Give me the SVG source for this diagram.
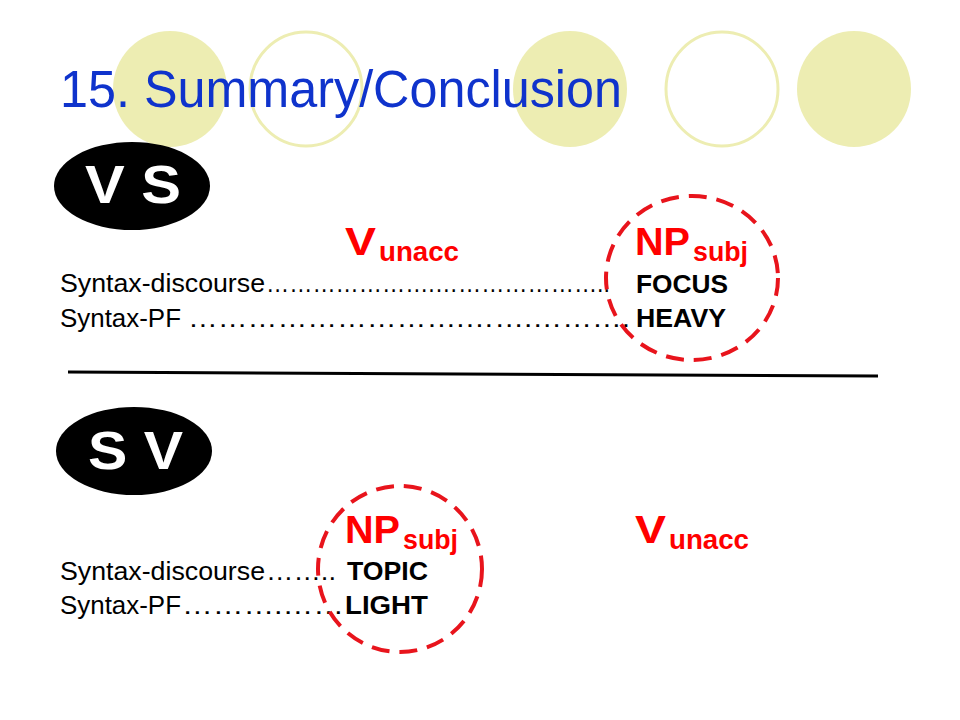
<svg xmlns="http://www.w3.org/2000/svg" width="960" height="720" viewBox="0 0 960 720">
<style>
.deco-f{fill:#EDEDB2;stroke:none}
.deco-o{fill:none;stroke:#EDEDB2;stroke-width:3}
.title{font-family:"Liberation Sans",Arial,sans-serif;font-size:51px;fill:#0F33CC}
.badge{fill:#000}
.badge-t{font-family:"Liberation Sans",Arial,sans-serif;font-weight:bold;font-size:53px;fill:#fff}
.red{font-family:"Liberation Sans",Arial,sans-serif;font-weight:bold;fill:#FF0000}
.big{font-size:38px}
.sub{font-size:27px}
.row{font-family:"Liberation Sans",Arial,sans-serif;font-size:26px;fill:#000}
.bold{font-family:"Liberation Sans",Arial,sans-serif;font-weight:bold;font-size:25px;fill:#000}
.dash{fill:none;stroke:#E8141C;stroke-width:4;stroke-dasharray:18 10}
</style>
<rect width="960" height="720" fill="#fff"/>
<g id="decor">
<ellipse class="deco-f" cx="170" cy="89" rx="57" ry="58"/>
<ellipse class="deco-o" cx="306" cy="89" rx="56" ry="57"/>
<ellipse class="deco-f" cx="570" cy="89" rx="57" ry="58"/>
<ellipse class="deco-o" cx="722" cy="89" rx="56" ry="57"/>
<ellipse class="deco-f" cx="854" cy="89" rx="57" ry="58"/>
</g>
<g id="title"><text class="title" x="60" y="107" textLength="562" lengthAdjust="spacingAndGlyphs">15. Summary/Conclusion</text></g>
<g id="vs">
<ellipse class="badge" cx="132" cy="186" rx="78" ry="44"/>
<text class="badge-t" x="85" y="203" textLength="96" lengthAdjust="spacingAndGlyphs">V S</text>
</g>
<g id="vs-heads">
<text class="red big" x="345" y="255" textLength="31" lengthAdjust="spacingAndGlyphs">V</text>
<text class="red sub" x="379" y="261" textLength="80" lengthAdjust="spacingAndGlyphs">unacc</text>
<text class="red big" x="635" y="255" textLength="55" lengthAdjust="spacingAndGlyphs">NP</text>
<text class="red sub" x="693" y="261" textLength="55" lengthAdjust="spacingAndGlyphs">subj</text>
</g>
<g id="vs-rows">
<text class="row" x="60" y="292" textLength="205" lengthAdjust="spacingAndGlyphs">Syntax-discourse</text>
<text class="row" x="266" y="292" textLength="344" lengthAdjust="spacingAndGlyphs">………………….…………………..</text>
<text class="bold" x="636" y="293" textLength="92" lengthAdjust="spacingAndGlyphs">FOCUS</text>
<text class="row" x="60" y="327" textLength="121" lengthAdjust="spacingAndGlyphs">Syntax-PF</text>
<text class="row" x="188" y="327" textLength="442" lengthAdjust="spacingAndGlyphs">……………………….…….……….</text>
<text class="bold" x="636" y="327" textLength="90" lengthAdjust="spacingAndGlyphs">HEAVY</text>
</g>
<g id="circle-top"><ellipse class="dash" cx="692" cy="278" rx="86" ry="82"/></g>
<g id="connectors"><line x1="68" y1="372" x2="878" y2="376" stroke="#000" stroke-width="3"/></g>
<g id="sv">
<ellipse class="badge" cx="134" cy="451" rx="78" ry="44"/>
<text class="badge-t" x="88" y="469" textLength="95" lengthAdjust="spacingAndGlyphs">S V</text>
</g>
<g id="sv-heads">
<text class="red big" x="345" y="543" textLength="55" lengthAdjust="spacingAndGlyphs">NP</text>
<text class="red sub" x="403" y="549" textLength="55" lengthAdjust="spacingAndGlyphs">subj</text>
<text class="red big" x="635" y="543" textLength="31" lengthAdjust="spacingAndGlyphs">V</text>
<text class="red sub" x="669" y="549" textLength="80" lengthAdjust="spacingAndGlyphs">unacc</text>
</g>
<g id="sv-rows">
<text class="row" x="60" y="580" textLength="205" lengthAdjust="spacingAndGlyphs">Syntax-discourse</text>
<text class="row" x="266" y="580" textLength="70" lengthAdjust="spacingAndGlyphs">……..</text>
<text class="bold" x="347" y="580" textLength="81" lengthAdjust="spacingAndGlyphs">TOPIC</text>
<text class="row" x="60" y="614" textLength="121" lengthAdjust="spacingAndGlyphs">Syntax-PF</text>
<text class="row" x="182" y="614" textLength="162" lengthAdjust="spacingAndGlyphs">……….……</text>
<text class="bold" x="345" y="614" textLength="83" lengthAdjust="spacingAndGlyphs">LIGHT</text>
</g>
<g id="circle-bottom"><ellipse class="dash" cx="400" cy="569" rx="82" ry="83"/></g>
</svg>
